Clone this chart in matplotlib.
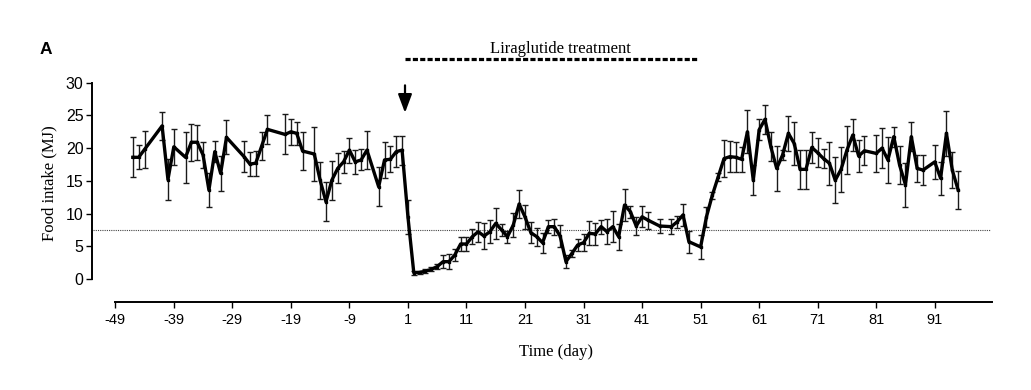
import matplotlib
matplotlib.use('Agg')
import matplotlib.pyplot as plt
from matplotlib.patches import ArrowStyle

# ---------------- data ----------------
days = [-46, -45, -44, -41, -40, -39, -37, -36, -35, -34, -33, -32, -31, -30,
        -27, -26, -25, -24, -23, -20, -19, -18, -17, -15, -14, -13, -12, -11,
        -10, -9, -8, -7, -6, -4, -3, -2, -1, 0,
        1, 2, 3, 4, 5, 6, 7, 8, 9, 10, 11, 12, 13, 14, 15, 16, 17, 18, 19, 20,
        21, 22, 23, 24, 25, 26, 27, 28, 29, 30, 31, 32, 33, 34, 35, 36, 37, 38,
        39, 40, 41, 42, 44, 46, 47, 48, 49, 51, 52, 53, 54,
        55, 56, 57, 58, 59, 60, 61, 62, 63, 64, 65, 66, 67, 68, 69, 70, 71, 72,
        73, 74, 75, 76, 77, 78, 79, 81, 82, 83, 84, 85, 86, 87, 88, 89, 91, 92,
        93, 94, 95]
intake = [18.6, 18.6, 19.8, 23.4, 15.2, 20.2, 18.6, 20.9, 20.9, 18.95, 13.6, 19.46, 16.15, 21.65,
          18.7, 17.57, 17.7, 20.3, 22.87, 22.1, 22.5, 22.26, 19.56, 19.1, 15.1, 11.8, 15.1, 16.9,
          17.9, 19.7, 17.9, 18.2, 19.7, 14.1, 18.2, 18.3, 19.46, 19.7,
          9.5, 0.97, 1.0, 1.2, 1.47, 1.9, 2.65, 2.65, 3.66, 5.35, 5.35, 6.47, 7.23, 6.57, 7.23, 8.5, 7.5, 6.47, 8.25, 11.46,
          9.5, 7.08, 6.47, 5.55, 8.0, 8.0, 6.57, 2.65, 3.9, 5.2, 5.55, 6.98, 6.88, 8.0, 7.23, 8.0, 6.47, 11.3,
          10.3, 8.1, 9.5, 9.0, 8.1, 8.0, 8.75, 9.8, 5.7, 4.9, 9.5, 12.8, 15.6,
          18.4, 18.7, 18.6, 18.3, 22.5, 15.1, 22.8, 24.4, 20.2, 16.9, 18.95, 22.26, 20.7, 16.76, 16.76, 20.1, 19.3, 18.4,
          17.7, 15.1, 16.76, 19.7, 22.0, 18.8, 19.6, 19.2, 20.0, 18.2, 21.75, 17.4, 14.4, 21.75, 16.9, 16.65, 17.9, 15.4,
          22.26, 16.65, 13.6]
sem = [3.06, 1.86, 2.85, 2.1, 3.16, 2.7, 3.9, 2.85, 2.67, 2.0, 2.57, 1.6, 2.7, 2.6,
       2.4, 1.8, 1.9, 2.1, 2.2, 3.06, 2.0, 1.8, 2.9, 4.1, 2.85, 3.0, 3.0, 2.3,
       1.7, 1.9, 1.8, 1.6, 2.9, 3.0, 2.8, 2.0, 2.4, 2.2,
       2.6, 0.3, 0.3, 0.3, 0.3, 0.4, 1.0, 1.1, 0.9, 1.0, 1.0, 1.1, 1.5, 2.0, 1.8, 2.4, 0.9, 0.9, 1.8, 2.2,
       1.8, 1.6, 1.4, 1.5, 1.0, 1.2, 1.7, 1.0, 0.6, 0.9, 1.3, 1.85, 1.7, 1.07, 1.9, 2.4, 2.0, 2.4,
       0.9, 1.4, 1.6, 1.3, 1.1, 1.1, 0.9, 1.7, 1.7, 1.8, 1.5, 0.5, 0.6,
       2.85, 2.4, 2.3, 1.9, 3.3, 2.3, 1.6, 2.2, 2.2, 3.4, 0.8, 2.7, 3.3, 3.0, 3.0, 2.3, 2.2, 1.4,
       3.3, 3.5, 3.4, 3.7, 2.5, 2.4, 2.2, 2.8, 3.1, 3.5, 1.5, 2.9, 3.4, 2.2, 2.1, 2.3, 2.6, 2.5,
       3.4, 2.8, 2.9]

xticks = list(range(-49, 92, 10))
yticks = [0, 5, 10, 15, 20, 25, 30]
ref_level = 7.5
treat_start, treat_end = 0.5, 50.5
arrow_day = 0.5
panel_label = "A"
treat_label = "Liraglutide treatment"
xlabel = "Time (day)"
ylabel = "Food intake (MJ)"

serif = ['Liberation Serif', 'DejaVu Serif']
sans = ['Liberation Sans', 'DejaVu Sans']

# ---------------- figure ----------------
fig = plt.figure(figsize=(10.31, 3.90), dpi=100)
ax = fig.add_axes([0.1118, 0.2846, 0.8499, 0.5033])
ax.set_xlim(-49, 100.7)
ax.set_ylim(0, 30)

# reference line
ax.axhline(ref_level, xmin=-0.0255, xmax=0.998, color='#444444', lw=0.8,
           ls=(0, (1, 1)), clip_on=False, zorder=1)

ax.errorbar(days, intake, yerr=sem, fmt='none', ecolor='#1a1a1a',
            elinewidth=1.0, capsize=2.0, capthick=1.0, zorder=2)
ax.plot(days, intake, color='black', lw=2.4, marker='s', ms=2.0, zorder=3)

# spines / ticks
for s in ['top', 'right']:
    ax.spines[s].set_visible(False)
for s in ['left', 'bottom']:
    ax.spines[s].set_position(('outward', 16.5))
    ax.spines[s].set_linewidth(1.4)
ax.set_xticks(xticks)
ax.set_yticks(yticks)
ax.set_xticklabels([str(t) for t in xticks], fontfamily=sans, fontsize=10.5)
ax.set_yticklabels([str(t) for t in yticks], fontfamily=sans, fontsize=11.5)
ax.tick_params(axis='both', direction='out', length=4.3, width=1.0, color='black')
ax.tick_params(axis='y', pad=2)
ax.tick_params(axis='x', pad=4)

# treatment bar and label
ax.plot([treat_start, treat_end], [33.58, 33.58], color='black', lw=2.3,
        ls=(0, (1.6, 0.7)), clip_on=False, solid_capstyle='butt')
ax.text((treat_start + treat_end) / 2 + 1.5, 34.6, treat_label, ha='center',
        va='baseline', fontfamily=serif, fontsize=12, clip_on=False)

# arrow
ax.annotate('', xy=(arrow_day, 25.4), xytext=(arrow_day, 29.6),
            arrowprops=dict(arrowstyle=ArrowStyle('-|>', head_length=0.8, head_width=0.3),
                            mutation_scale=14, lw=1.6, color='black',
                            shrinkA=0, shrinkB=0),
            annotation_clip=False)

# labels
fig.text(46 / 1031, 1 - 49 / 390, panel_label, fontfamily=sans, fontweight='heavy',
         fontsize=12.5, ha='center', va='center')
fig.text(49 / 1031, 1 - 183 / 390, ylabel, fontfamily=serif, fontsize=12,
         rotation=90, ha='center', va='center')
fig.text(556 / 1031, 1 - 352 / 390, xlabel, fontfamily=serif, fontsize=12,
         ha='center', va='center')

fig.savefig('out.png', dpi=100)
